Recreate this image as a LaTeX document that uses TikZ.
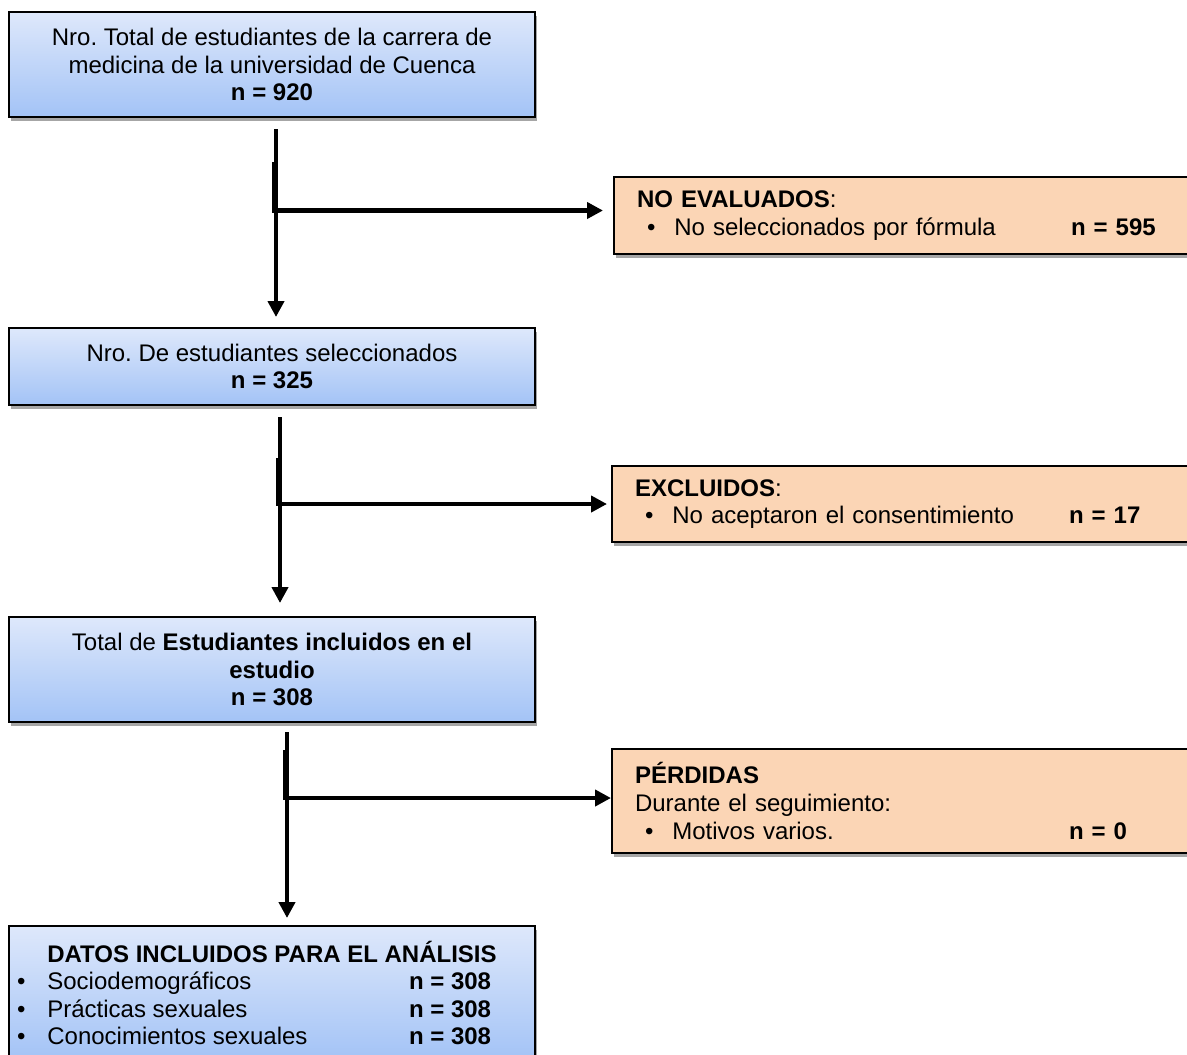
\documentclass[tikz,border=0pt]{standalone}
\usepackage{fontspec}
\setmainfont{Liberation Sans}
\frenchspacing
\usetikzlibrary{shadows,arrows.meta,positioning,calc}
\definecolor{BoxTop}{RGB}{222,232,251}
\definecolor{BoxBottom}{RGB}{163,195,246}
\definecolor{Peach}{RGB}{251,213,181}
\newdimen\pxu \pxu=0.75pt
\tikzset{flow layout/.style={%
    x=0.75pt,%
    y=-0.75pt,%
    every node/.style={%
        font=\fontsize{18}{20.7}\selectfont%
    },%
}}
\tikzset{main box/.style={%
    draw=black, line width=1.5pt, top color=BoxTop, bottom color=BoxBottom,
    minimum width=394.5pt, inner sep=0pt, align=center,
    drop shadow={shadow xshift=1.5pt, shadow yshift=-3pt, opacity=0.35, fill=black}
}}
\tikzset{side box/.style={%
    draw=black, line width=1.5pt, fill=Peach, anchor=west,
    text width=405pt, inner xsep=17.25pt, inner ysep=0pt, align=left,
    drop shadow={shadow xshift=1.5pt, shadow yshift=-3pt, opacity=0.35, fill=black}
}}
\tikzset{flow/.style={%
    black, line width=3.4pt, -{Triangle[width=12pt,length=12pt]}
}}
\newcommand{\sidebullet}[2]{\makebox[434\pxu][l]{\hspace*{10\pxu}\textbullet\hspace{19\pxu}#1}\textbf{#2}}
\newcommand{\datosrow}[1]{\makebox[392\pxu][l]{\textbullet\hspace{22\pxu}#1}\textbf{n = 308}}

\begin{document}
\begin{tikzpicture}[flow layout]
    \useasboundingbox (0,0) rectangle (1187,1054);

    \node[main box, minimum height=78.75pt] (total) at (272,64.5)
        {Nro. Total de estudiantes de la carrera de\\medicina de la universidad de Cuenca\\\textbf{n = 920}};
    \node[main box, minimum height=57.75pt] (selec) at (272,366.5)
        {Nro. De estudiantes seleccionados\\\textbf{n = 325}};
    \node[main box, minimum height=78.75pt] (incl) at (272,669.5)
        {Total de \textbf{Estudiantes incluidos en el}\\\textbf{estudio}\\\textbf{n = 308}};
    \node[main box, minimum height=101.25pt, align=left] (datos) at (272,993)
        {\makebox[510\pxu][c]{\textbf{DATOS INCLUIDOS PARA EL ANÁLISIS}}\\
         \datosrow{Sociodemográficos}\\
         \datosrow{Prácticas sexuales}\\
         \datosrow{Conocimientos sexuales}};

    \node[side box, minimum height=57.75pt] (noeval) at (613,215.5)
        {\textbf{NO EVALUADOS}:\\\sidebullet{No seleccionados por fórmula}{n = 595}};
    \node[side box, minimum height=57pt] (excl) at (611,504)
        {\textbf{EXCLUIDOS}:\\\sidebullet{No aceptaron el consentimiento}{n = 17}};
    \node[side box, minimum height=78pt] (perd) at (611,801)
        {\textbf{PÉRDIDAS}\\Durante el seguimiento:\\\sidebullet{Motivos varios.}{n = 0}};

    % main flow
    \coordinate (a1) at (276,129);  \coordinate (a2) at (276,317);  \coordinate (b1) at (274,162);
    \coordinate (c1) at (280,417);  \coordinate (c2) at (280,603);  \coordinate (d1) at (278,458);
    \coordinate (e1) at (287,732);  \coordinate (e2) at (287,918);  \coordinate (f1) at (285,750);

    \draw[flow] (a1) -- (a2);
    \draw[flow] (c1) -- (c2);
    \draw[flow] (e1) -- (e2);

    % branches
    \draw[flow, shorten >=7.5pt] (b1) |- ($(noeval.west)+(0,-5)$);
    \draw[flow, shorten >=3pt] (d1) |- (excl.west);
    \draw[flow] (f1) |- ($(perd.west)+(0,-3)$);
\end{tikzpicture}
\end{document}
